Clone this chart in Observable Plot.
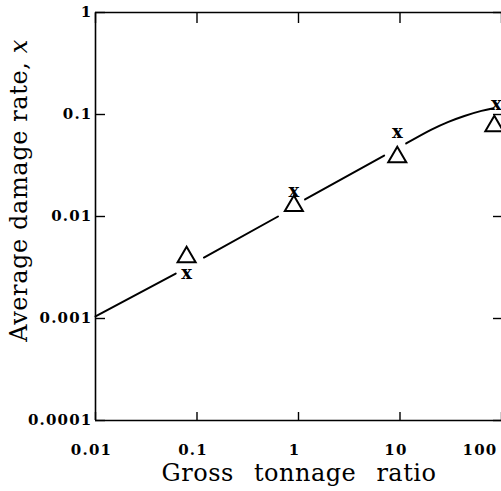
<!DOCTYPE html>
<html><head><meta charset="utf-8">
<script src="https://cdn.jsdelivr.net/npm/d3@7"></script>
<script src="https://cdn.jsdelivr.net/npm/@observablehq/plot@0.6"></script>
<style>html,body{margin:0;padding:0;background:#fff;overflow:hidden}svg{display:block}</style>
</head><body><div id="chart"></div>
<script>
const xTicks = [0.01, 0.1, 1, 10, 100];
const xTickLabels = ["0.01", "0.1", "1", "10", "100"];
const yTicks = [0.0001, 0.001, 0.01, 0.1, 1];
const yTickLabels = ["0.0001", "0.001", "0.01", "0.1", "1"];

const triX = [0.079, 0.90, 9.4, 85];
const triY = [0.0040, 0.0127, 0.0382, 0.0769];

const crossX = [0.079, 0.90, 9.4, 89];
const crossY = [0.00276, 0.0176, 0.0667, 0.125];

const curveX = [0.01, 0.0617, 0.117, 0.628, 1.16, 6.98, 11.5, 20.4, 30, 43.1, 63.4, 83.4];
const curveY = [0.00105, 0.00276, 0.00396, 0.0100, 0.0147, 0.0396, 0.052, 0.0711, 0.0847, 0.0968, 0.1086, 0.1153];
const curveSeg = [1, 1, 2, 2, 3, 3, 4, 4, 4, 4, 4, 4];

const xLabel = "Gross tonnage ratio";
const yLabel = "Average damage rate, ";
const yLabelVar = "x";

const curve = curveX.map((x, i) => ({x, y: curveY[i], seg: curveSeg[i]}));
const tri = triX.map((x, i) => ({x, y: triY[i]}));
const cross = crossX.map((x, i) => ({x, y: crossY[i]}));

const plot = Plot.plot({
  width: 501, height: 491,
  marginLeft: 95, marginRight: 0, marginTop: 12, marginBottom: 71,
  style: {fontFamily: "'DejaVu Serif', serif", color: "#000", background: "#fff", overflow: "visible"},
  x: {type: "log", domain: [0.01, 100]},
  y: {type: "log", domain: [0.0001, 1]},
  marks: [
    Plot.ruleX([0.01], {stroke: "#000", strokeWidth: 1.6}),
    Plot.ruleY([0.0001, 1], {stroke: "#000", strokeWidth: 1.6}),
    Plot.axisY({ticks: yTicks, tickSize: -10, text: null, label: null, strokeWidth: 1.4}),
    Plot.axisY({anchor: "right", ticks: yTicks, tickSize: -9, text: null, label: null, strokeWidth: 1.4}),
    Plot.axisX({anchor: "top", ticks: xTicks, tickSize: -10, text: null, label: null, strokeWidth: 1.4}),
    Plot.axisX({anchor: "bottom", ticks: xTicks, tickSize: -8, text: null, label: null, strokeWidth: 1.4}),
    Plot.axisY({ticks: yTicks, tickSize: 0, tickPadding: 3, label: null,
      tickFormat: d => yTickLabels[yTicks.indexOf(d)], fontSize: 15, fontWeight: "bold"}),
    Plot.axisX({ticks: xTicks, tickSize: 0, tickPadding: 24, label: null, dx: -4,
      tickFormat: d => xTickLabels[xTicks.indexOf(d)], fontSize: 15, fontWeight: "bold"}),
    Plot.line(curve, {x: "x", y: "y", z: "seg", curve: "catmull-rom", stroke: "#000", strokeWidth: 2}),
    Plot.dot(tri, {x: "x", y: "y", symbol: "triangle", r: 6.7, stroke: "#000", strokeWidth: 2, fill: "none"}),
    Plot.text(cross, {x: "x", y: "y", text: () => "x", fontSize: 18, fontWeight: "bold", fill: "#000"})
  ]
});

document.getElementById("chart").appendChild(plot);

const svg = d3.select(plot);
svg.selectAll("g[aria-label$='tick label'] text").style("letter-spacing", "1.2px");
// the last x tick label sits at the right edge: anchor it at its end so it stays visible
const xLabs = svg.selectAll("g[aria-label='x-axis tick label'] text").nodes();
if (xLabs.length) {
  const last = d3.select(xLabs[xLabs.length - 1]);
  last.attr("text-anchor", "end").attr("dx", 0);
}

svg.append("text")
  .attr("x", 299).attr("y", 481)
  .attr("text-anchor", "middle")
  .style("font-family", "'DejaVu Serif', serif")
  .style("font-size", "24px")
  .style("letter-spacing", "0.5px")
  .style("word-spacing", "12px")
  .attr("fill", "#000")
  .text(xLabel);

const yl = svg.append("text")
  .attr("transform", "translate(27,190.5) rotate(-90)")
  .attr("text-anchor", "middle")
  .style("font-family", "'DejaVu Serif', serif")
  .style("font-size", "24px")
  .style("letter-spacing", "0.6px")
  .style("white-space", "pre")
  .attr("fill", "#000");
yl.append("tspan").text(yLabel);
yl.append("tspan").style("font-style", "italic").text(yLabelVar);
</script>
</body></html>
